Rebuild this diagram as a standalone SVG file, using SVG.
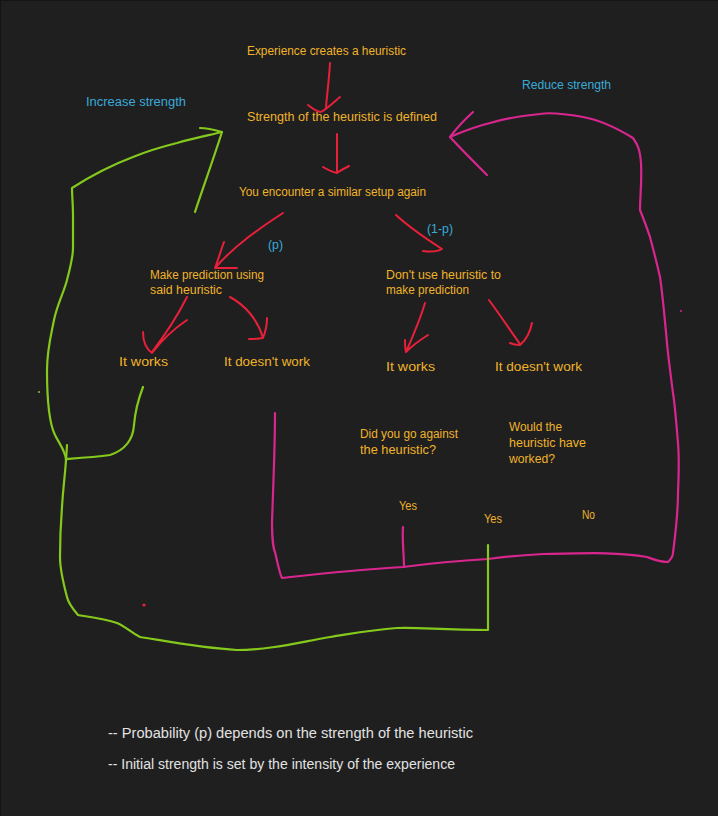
<svg xmlns="http://www.w3.org/2000/svg" width="718" height="816" viewBox="0 0 718 816">
<style>
text{font-family:"Liberation Sans",Arial,sans-serif;font-size:12px}
.y{fill:#f0b32a}
.b{fill:#3aaad9}
.w{fill:#e2e2e2;font-size:14px}
.r{fill:none;stroke:#e8203a;stroke-width:2;stroke-linecap:round;stroke-linejoin:round}
.g{fill:none;stroke:#84c91c;stroke-width:2.2;stroke-linecap:round;stroke-linejoin:round}
.m{fill:none;stroke:#d9268f;stroke-width:2.2;stroke-linecap:round;stroke-linejoin:round}
</style>
<rect x="0" y="0" width="718" height="816" fill="#1f1f1f"/>
<path d="M0.5,816 V0.5 H718" fill="none" stroke="#141414" stroke-width="1"/>

<g id="connectors">
  <!-- magenta loop: reduce strength -->
  <path class="m" d="M275,413 C275,450 273,490 272,523 C272,540 274,550 275,552 C278,565 280,575 282,578 C300,576 350,570 403,567 C440,562 470,560 488,559 C510,556 525,555 543,554 C590,553 620,552 647,557 C655,560 660,562 668,562 C672,558 673,555 673,553 C676,530 678,510 678,493 C679,470 679,455 678,443 C676,420 675,405 673,393 C670,370 668,355 667,343 C664,310 662,290 660,277 C655,255 652,245 650,237 C646,225 642,215 640,210 C640,195 642,185 641,163 C640,150 638,145 633,138 C620,130 600,120 583,117 C560,113 545,113 540,114 C520,116 500,120 490,123 C470,128 460,133 450,137"/>
  <path class="m" d="M473,112 C463,121 456,129 450,137 C462,150 475,163 487,175"/>
  <path class="m" d="M403,527 C402,540 404,555 404,567"/>
  <!-- green loop: increase strength -->
  <path class="g" d="M488,545 L488,630 C440,630 420,627 397,628 C370,630 350,634 330,637 C300,642 270,650 237,650 C200,648 160,640 140,637 C130,632 125,626 117,623 C105,619 90,617 78,615 C72,608 68,602 67,597 C63,582 60,570 60,557 C60,535 61,520 62,507 C63,490 65,475 66,460 C66,452 60,445 55,435 C50,425 47,400 47,370 C47,350 51,335 54,320 C57,305 64,292 67,280 C71,265 73,255 73,248 C73,235 73,222 73,215 C73,205 72,195 72,188 C100,170 125,160 133,157 C150,150 165,146 177,143 C195,138 210,135 222,132"/>
  <path class="g" d="M200,128 C208,128 215,130 222,132 C213,160 203,188 195,212"/>
  <path class="g" d="M143,387 C138,400 135,413 134,425 C133,440 125,450 110,455 C95,457 80,458 66,459 M67,445 L66,461"/>
  <!-- red arrows -->
  <path class="r" d="M330,63 C329,80 327,95 326,107 M308,105 C313,109 317,112 321,112 C328,108 335,101 340,97"/>
  <path class="r" d="M337,134 L337,171 M323,167 C328,170 332,172 337,173 C341,170 345,168 349,166"/>
  <path class="r" d="M283,213 C260,228 235,245 215,268 M224,242 C221,250 218,260 215,268 C222,268 230,268 237,268"/>
  <path class="r" d="M396,215 C410,228 425,238 442,249 C437,252 430,252 423,251"/>
  <path class="r" d="M187,297 C178,315 165,335 152,352 M143,332 C143,340 145,348 152,353 C162,340 175,328 187,320"/>
  <path class="r" d="M230,297 C245,305 258,320 263,338 M267,318 C267,328 265,333 263,338 C258,339 254,339 249,339"/>
  <path class="r" d="M425,303 C420,320 413,336 406,352 M428,335 C420,340 412,346 406,352 C405,348 405,344 405,340"/>
  <path class="r" d="M489,300 C500,315 510,330 520,344 M532,323 C530,333 526,340 520,345 C516,345 512,344 510,343"/>
  <circle cx="144" cy="605" r="1.6" fill="#e8203a"/>
  <circle cx="39" cy="392" r="1" fill="#84c91c"/>
  <circle cx="681" cy="311" r="1" fill="#d9268f"/>
</g>

<g id="experience"><text class="y" x="247" y="55" textLength="159" lengthAdjust="spacingAndGlyphs">Experience creates a heuristic</text></g>
<g id="strength"><text class="y" x="247" y="121" textLength="190" lengthAdjust="spacingAndGlyphs">Strength of the heuristic is defined</text></g>
<g id="encounter"><text class="y" x="239" y="196" textLength="187" lengthAdjust="spacingAndGlyphs">You encounter a similar setup again</text></g>
<g id="increase"><text class="b" x="86" y="106" textLength="100" lengthAdjust="spacingAndGlyphs">Increase strength</text></g>
<g id="reduce"><text class="b" x="522" y="89" textLength="89" lengthAdjust="spacingAndGlyphs">Reduce strength</text></g>
<g id="p"><text class="b" x="268" y="249" textLength="15" lengthAdjust="spacingAndGlyphs">(p)</text></g>
<g id="one-minus-p"><text class="b" x="427" y="233" textLength="26" lengthAdjust="spacingAndGlyphs">(1-p)</text></g>
<g id="use-heuristic">
  <text class="y" x="150" y="279" textLength="114" lengthAdjust="spacingAndGlyphs">Make prediction using</text>
  <text class="y" x="150" y="294" textLength="72" lengthAdjust="spacingAndGlyphs">said heuristic</text>
</g>
<g id="no-heuristic">
  <text class="y" x="386" y="279" textLength="115" lengthAdjust="spacingAndGlyphs">Don't use heuristic to</text>
  <text class="y" x="386" y="294" textLength="83" lengthAdjust="spacingAndGlyphs">make prediction</text>
</g>
<g id="works-1"><text class="y" x="119" y="366" textLength="49" lengthAdjust="spacingAndGlyphs">It works</text></g>
<g id="fails-1"><text class="y" x="224" y="366" textLength="86" lengthAdjust="spacingAndGlyphs">It doesn't work</text></g>
<g id="works-2"><text class="y" x="386" y="371" textLength="49" lengthAdjust="spacingAndGlyphs">It works</text></g>
<g id="fails-2"><text class="y" x="495" y="371" textLength="87" lengthAdjust="spacingAndGlyphs">It doesn't work</text></g>
<g id="against">
  <text class="y" x="360" y="438" textLength="98" lengthAdjust="spacingAndGlyphs">Did you go against</text>
  <text class="y" x="360" y="454" textLength="76" lengthAdjust="spacingAndGlyphs">the heuristic?</text>
</g>
<g id="would-work">
  <text class="y" x="509" y="431" textLength="53" lengthAdjust="spacingAndGlyphs">Would the</text>
  <text class="y" x="509" y="447" textLength="77" lengthAdjust="spacingAndGlyphs">heuristic have</text>
  <text class="y" x="509" y="463" textLength="46" lengthAdjust="spacingAndGlyphs">worked?</text>
</g>
<g id="yes-1"><text class="y" x="399" y="510" textLength="18" lengthAdjust="spacingAndGlyphs">Yes</text></g>
<g id="yes-2"><text class="y" x="484" y="523" textLength="18" lengthAdjust="spacingAndGlyphs">Yes</text></g>
<g id="no"><text class="y" x="582" y="519" textLength="13" lengthAdjust="spacingAndGlyphs">No</text></g>
<g id="notes">
  <text class="w" x="108" y="738" textLength="365" lengthAdjust="spacingAndGlyphs">-- Probability (p) depends on the strength of the heuristic</text>
  <text class="w" x="108" y="769" textLength="347" lengthAdjust="spacingAndGlyphs">-- Initial strength is set by the intensity of the experience</text>
</g>
</svg>
